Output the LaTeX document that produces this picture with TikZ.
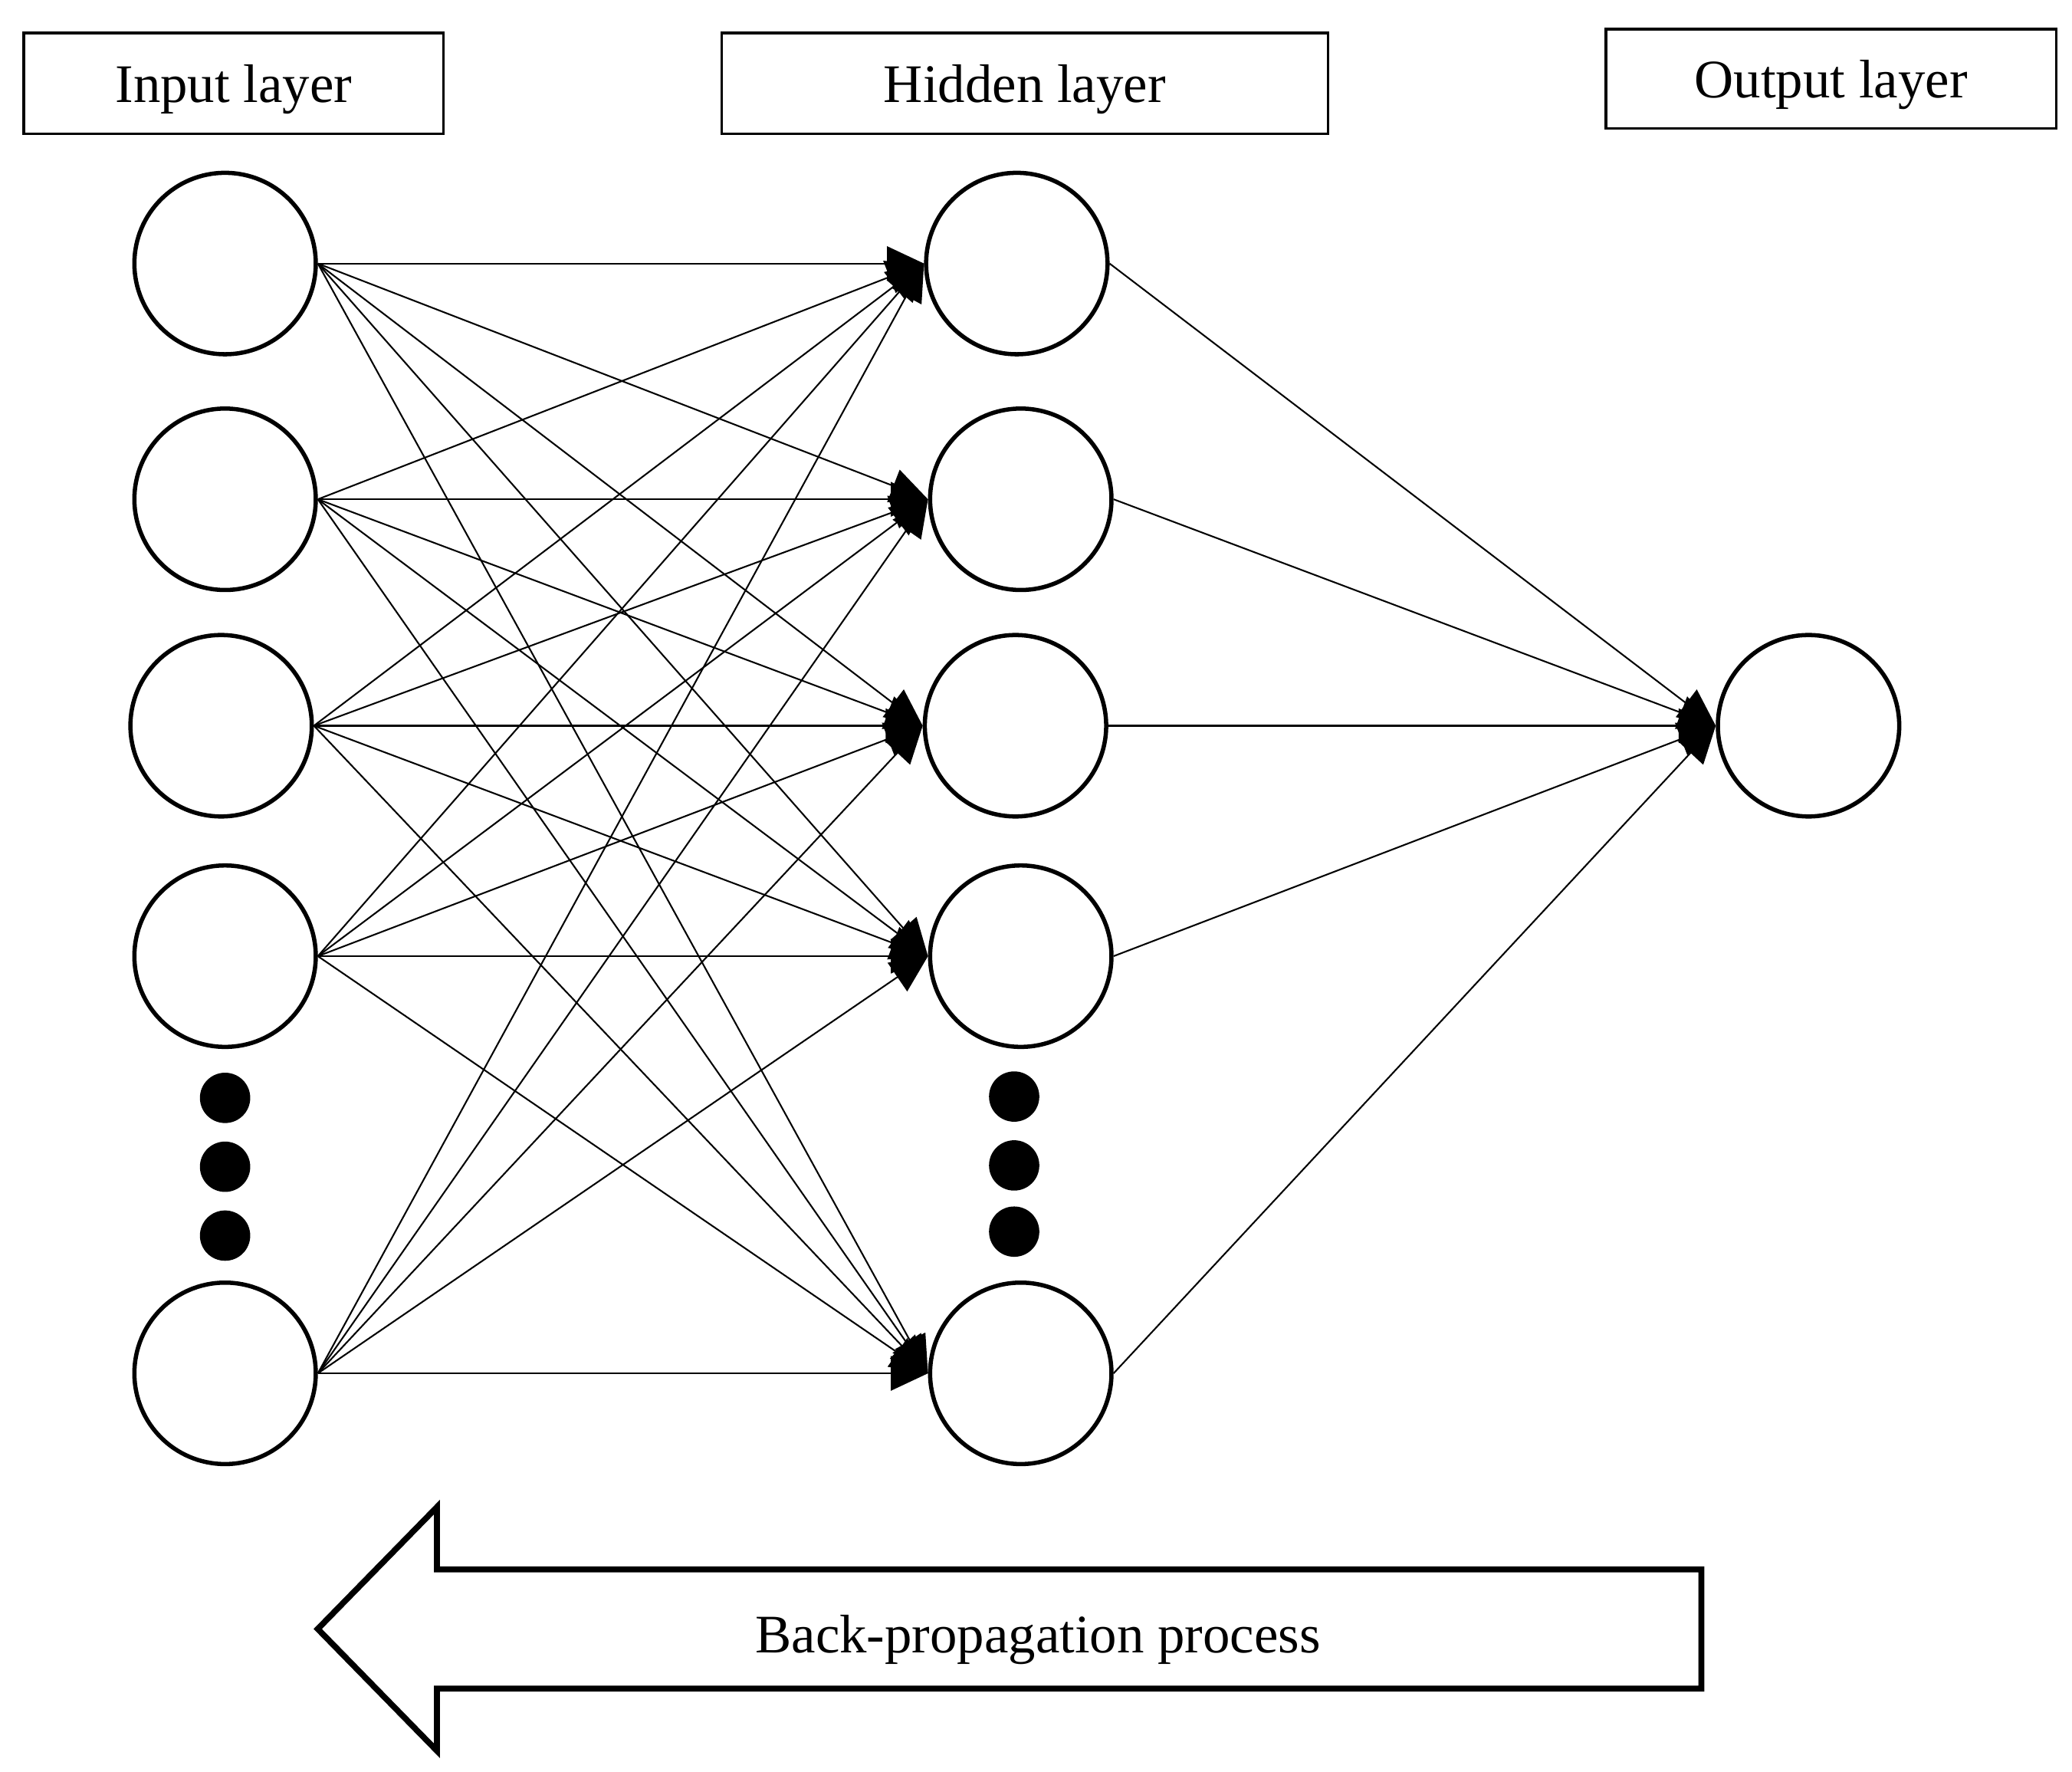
\documentclass[tikz,border=0pt]{standalone}
\usepackage{fontspec}
\setmainfont{Liberation Serif}
\usetikzlibrary{arrows.meta}
\begin{document}
\begin{tikzpicture}[x=1pt,y=-1pt,
  neuron/.style={circle,draw,line width=3.2pt,minimum size=137pt,inner sep=0pt},
  titlebox/.style={draw,line width=2pt,inner sep=0pt,text height=38pt,text depth=9pt,font=\fontsize{41}{49}\selectfont},
  edge/.style={line width=1.2pt,-{Triangle[length=28pt,width=26pt]}},
  dot/.style={circle,fill,minimum size=38pt,inner sep=0pt}]
\useasboundingbox (0,0) rectangle (1565,1338);
% title boxes
\node[titlebox,minimum width=317pt,minimum height=76pt] (tin) at (176.5,63) {Input layer};
\node[titlebox,minimum width=458pt,minimum height=76pt] (thid) at (774,63) {Hidden layer};
\node[titlebox,minimum width=340pt,minimum height=75pt] (tout) at (1383,59.5) {Output layer};
% input neurons
\node[neuron] (i1) at (170,199) {};
\node[neuron] (i2) at (170,377) {};
\node[neuron] (i3) at (167,548) {};
\node[neuron] (i4) at (170,722) {};
\node[neuron] (i5) at (170,1037) {};
% hidden neurons
\node[neuron] (h1) at (768,199) {};
\node[neuron] (h2) at (771,377) {};
\node[neuron] (h3) at (767,548) {};
\node[neuron] (h4) at (771,722) {};
\node[neuron] (h5) at (771,1037) {};
% output neuron
\node[neuron] (o1) at (1366,548) {};
% dots
\node[dot] (d1) at (170,829) {};
\node[dot] (d2) at (170,881) {};
\node[dot] (d3) at (170,933) {};
\node[dot] (e1) at (766,828) {};
\node[dot] (e2) at (766,880) {};
\node[dot] (e3) at (766,930) {};
% connections
\foreach \i in {1,...,5}{
  \foreach \j in {1,...,5}{
    \draw[edge] (i\i.east) -- (h\j.west);
  }
}
\foreach \j in {1,...,5}{
  \draw[edge] (h\j.east) -- (o1.west);
}
% back-propagation arrow
\coordinate (a1) at (1285,1185);
\coordinate (a2) at (330,1185);
\coordinate (a3) at (330,1138);
\coordinate (a4) at (240,1230);
\coordinate (a5) at (330,1322);
\coordinate (a6) at (330,1275);
\coordinate (a7) at (1285,1275);
\draw[line width=4.5pt,line join=miter] (a1) -- (a2) -- (a3) -- (a4) -- (a5) -- (a6) -- (a7) -- cycle;
\node[font=\fontsize{41}{49}\selectfont] (bp) at (784,1238) {Back-propagation process};
\end{tikzpicture}
\end{document}
